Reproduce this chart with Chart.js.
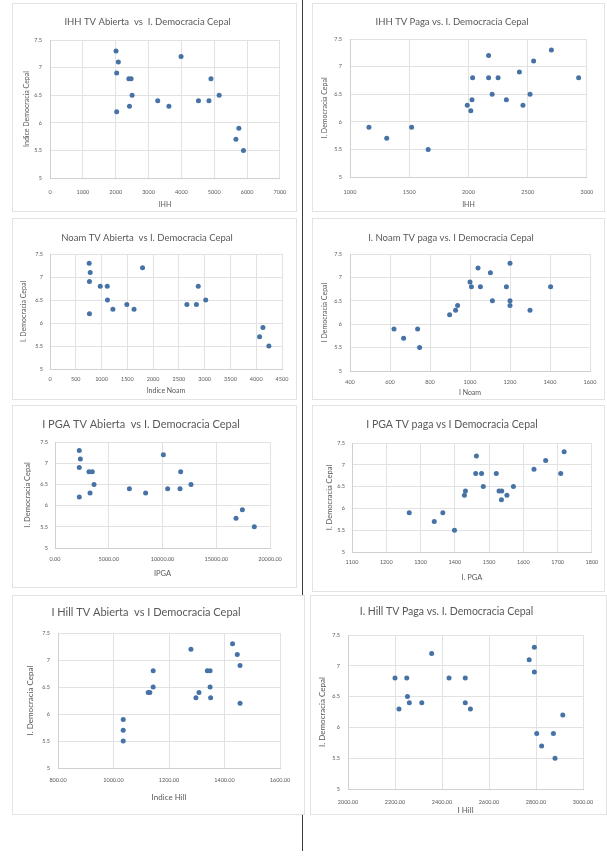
<!DOCTYPE html>
<html><head><meta charset="utf-8">
<script src="https://cdn.jsdelivr.net/npm/chart.js@4.4.0/dist/chart.umd.min.js"></script>
<style>
html,body{margin:0;padding:0;background:#fff;width:607px;height:856px;overflow:hidden;position:relative}
.panel{position:absolute;background:#fff;border:1px solid #e3e3e3;box-sizing:border-box}
canvas{position:absolute}
.vline{position:absolute;left:302px;width:1px;background:#3c3c3c}
</style></head><body>
<div class="vline" style="top:0;height:596px"></div>
<div class="vline" style="top:815px;height:36px"></div>
<script>
// ---- shared data ----
const yTicks = [5, 5.5, 6, 6.5, 7, 7.5];

// Panel 1: IHH TV Abierta
const ihhAbiertaX = [2010, 2080, 2030, 2400, 2470, 2500, 2420, 2030, 3280, 3620, 3990, 4520, 4840, 4900, 5150, 5660, 5750, 5890];
const ihhAbiertaY = [7.3, 7.1, 6.9, 6.8, 6.8, 6.5, 6.3, 6.2, 6.4, 6.3, 7.2, 6.4, 6.4, 6.8, 6.5, 5.7, 5.9, 5.5];
const ihhAbiertaTicks = [0, 1000, 2000, 3000, 4000, 5000, 6000, 7000];

// Panel 2: IHH TV Paga
const ihhPagaX = [1160, 1310, 1520, 1660, 1990, 2030, 2020, 2035, 2170, 2170, 2200, 2250, 2320, 2430, 2460, 2520, 2550, 2700, 2930];
const ihhPagaY = [5.9, 5.7, 5.9, 5.5, 6.3, 6.4, 6.2, 6.8, 7.2, 6.8, 6.5, 6.8, 6.4, 6.9, 6.3, 6.5, 7.1, 7.3, 6.8];
const ihhPagaTicks = [1000, 1500, 2000, 2500, 3000];

// Panel 3: Noam TV Abierta
const noamAbiertaX = [760, 780, 765, 975, 1110, 1115, 1220, 765, 1490, 1630, 1795, 2655, 2840, 2875, 3020, 4065, 4130, 4245];
const noamAbiertaY = [7.3, 7.1, 6.9, 6.8, 6.8, 6.5, 6.3, 6.2, 6.4, 6.3, 7.2, 6.4, 6.4, 6.8, 6.5, 5.7, 5.9, 5.5];
const noamAbiertaTicks = [0, 500, 1000, 1500, 2000, 2500, 3000, 3500, 4000, 4500];

// Panel 4: Noam TV Paga
const noamPagaX = [620, 668, 738, 748, 898, 928, 938, 1000, 1007, 1040, 1052, 1102, 1112, 1182, 1200, 1200, 1200, 1300, 1403];
const noamPagaY = [5.9, 5.7, 5.9, 5.5, 6.2, 6.3, 6.4, 6.9, 6.8, 7.2, 6.8, 7.1, 6.5, 6.8, 7.3, 6.5, 6.4, 6.3, 6.8];
const noamPagaTicks = [400, 600, 800, 1000, 1200, 1400, 1600];

// Panel 5: PGA TV Abierta
const pgaAbiertaX = [2260, 2360, 2260, 3160, 3470, 3630, 3260, 2260, 6920, 8430, 10080, 10480, 11630, 11690, 12650, 16840, 17430, 18540];
const pgaAbiertaY = [7.3, 7.1, 6.9, 6.8, 6.8, 6.5, 6.3, 6.2, 6.4, 6.3, 7.2, 6.4, 6.4, 6.8, 6.5, 5.7, 5.9, 5.5];
const pgaAbiertaTicks = [0, 5000, 10000, 15000, 20000];

// Panel 6: PGA TV Paga
const pgaPagaX = [1267, 1340, 1365, 1399, 1428, 1431, 1463, 1461, 1478, 1483, 1521, 1529, 1537, 1536, 1552, 1571, 1631, 1665, 1709, 1719];
const pgaPagaY = [5.9, 5.7, 5.9, 5.5, 6.3, 6.4, 7.2, 6.8, 6.8, 6.5, 6.8, 6.4, 6.4, 6.2, 6.3, 6.5, 6.9, 7.1, 6.8, 7.3];
const pgaPagaTicks = [1100, 1200, 1300, 1400, 1500, 1600, 1700, 1800];

// Panel 7: Hill TV Abierta
const hillAbiertaX = [1035, 1035, 1035, 1125, 1131, 1143, 1143, 1279, 1297, 1308, 1338, 1348, 1348, 1350, 1429, 1446, 1456, 1456];
const hillAbiertaY = [5.9, 5.7, 5.5, 6.4, 6.4, 6.8, 6.5, 7.2, 6.3, 6.4, 6.8, 6.8, 6.5, 6.3, 7.3, 7.1, 6.9, 6.2];
const hillAbiertaTicks = [800, 1000, 1200, 1400, 1600];

// Panel 8: Hill TV Paga
const hillPagaX = [2200, 2217, 2250, 2253, 2261, 2314, 2356, 2430, 2499, 2499, 2521, 2771, 2793, 2793, 2803, 2824, 2874, 2881, 2914];
const hillPagaY = [6.8, 6.3, 6.8, 6.5, 6.4, 6.4, 7.2, 6.8, 6.8, 6.4, 6.3, 7.1, 7.3, 6.9, 5.9, 5.7, 5.9, 5.5, 6.2];
const hillPagaTicks = [2000, 2200, 2400, 2600, 2800, 3000];

// ---- styles ----
const FF = 'Lato, "Liberation Sans", sans-serif';
const TXT = '#595959';
const GRID = '#e2e2e2';
const AXIS = '#d0d0d0';
const PT = '#4672a6';

function makePanel(L, T, xs, ys, xTicks) {
  const box = L.box, plot = L.plot;
  const W = box.r - box.l, H = box.b - box.t;
  const div = document.createElement('div');
  div.className = 'panel';
  Object.assign(div.style, {left: box.l + 'px', top: box.t + 'px', width: W + 'px', height: H + 'px'});
  document.body.appendChild(div);
  const cv = document.createElement('canvas');
  cv.width = W; cv.height = H;
  Object.assign(cv.style, {left: box.l + 'px', top: box.t + 'px', width: W + 'px', height: H + 'px'});
  document.body.appendChild(cv);

  const tLH = L.titleFs * 1.2;
  const tTop = Math.max(0, L.titleY - box.t - tLH / 2);
  const tBot = Math.max(0, plot.t - box.t - tTop - tLH);
  const yW = plot.l - box.l;
  const yTitlePad = Math.max(0, L.yTitleX - box.l - L.axisFs * 0.6);
  const yTickPad = plot.l - L.yTickRight;
  const pr = box.r - plot.r;
  const xH = box.b - plot.b;
  const xTickPad = Math.max(0, L.xTickY - L.tickFs * 0.6 - plot.b);
  const xTitlePadB = Math.max(0, box.b - L.xTitleY - L.axisFs * 0.6);
  const fmt = v => L.xDec ? Number(v).toFixed(L.xDec) : String(v);

  new Chart(cv.getContext('2d'), {
    type: 'scatter',
    data: {datasets: [{
      data: xs.map((x, i) => ({x: x, y: ys[i]})),
      backgroundColor: PT, borderColor: PT, borderWidth: 0,
      pointRadius: 2.5, pointHoverRadius: 2.5
    }]},
    options: {
      responsive: false, animation: false, events: [],
      layout: {padding: {left: 0, right: pr, top: 0, bottom: 0}},
      plugins: {
        legend: {display: false}, tooltip: {enabled: false},
        title: {display: true, text: T.title, color: TXT,
          font: {family: FF, size: L.titleFs, weight: 'normal', lineHeight: 1.2},
          padding: {top: tTop, bottom: tBot}}
      },
      scales: {
        x: {
          type: 'linear', position: 'bottom',
          min: xTicks[0], max: xTicks[xTicks.length - 1],
          afterBuildTicks: s => { s.ticks = xTicks.map(v => ({value: v})); },
          afterFit: s => { s.height = xH; },
          grid: {color: GRID, drawTicks: false},
          border: {color: AXIS},
          ticks: {padding: xTickPad, color: TXT, font: {family: FF, size: L.tickFs},
            maxRotation: 0, autoSkip: false, callback: v => fmt(v)},
          title: {display: true, text: T.xTitle, color: TXT,
            font: {family: FF, size: L.axisFs, lineHeight: 1.2},
            padding: {top: 0, bottom: xTitlePadB}}
        },
        y: {
          type: 'linear', position: 'left',
          min: yTicks[0], max: yTicks[yTicks.length - 1],
          afterBuildTicks: s => { s.ticks = yTicks.map(v => ({value: v})); },
          afterFit: s => { s.width = yW; },
          grid: {color: GRID, drawTicks: false},
          border: {color: AXIS},
          ticks: {padding: yTickPad, color: TXT, font: {family: FF, size: L.tickFs},
            autoSkip: false, callback: v => String(v)},
          title: {display: true, text: T.yTitle, color: TXT,
            font: {family: FF, size: L.axisFs, lineHeight: 1.2},
            padding: {top: yTitlePad, bottom: 0}}
        }
      }
    }
  });
}

makePanel(
  {box: {l: 12, t: 3, r: 297, b: 212}, plot: {l: 50, r: 283, t: 40, b: 178}, titleY: 22, titleFs: 9.5,
   xTickY: 192, xTitleY: 205, yTitleX: 27, yTickRight: 42, axisFs: 7, tickFs: 5.5},
  {title: 'IHH TV Abierta  vs  I. Democracia Cepal', xTitle: 'IHH', yTitle: 'Indice Democracia Cepal'},
  ihhAbiertaX, ihhAbiertaY, ihhAbiertaTicks);

makePanel(
  {box: {l: 312, t: 3, r: 605, b: 212}, plot: {l: 350, r: 592, t: 39, b: 177}, titleY: 22, titleFs: 9.5,
   xTickY: 192, xTitleY: 205, yTitleX: 325, yTickRight: 342, axisFs: 7, tickFs: 5.5},
  {title: 'IHH TV Paga vs. I. Democracia Cepal', xTitle: 'IHH', yTitle: 'I. Democracia Cepal'},
  ihhPagaX, ihhPagaY, ihhPagaTicks);

makePanel(
  {box: {l: 12, t: 218, r: 297, b: 400}, plot: {l: 50, r: 282, t: 254, b: 369}, titleY: 238, titleFs: 9.5,
   xTickY: 379, xTitleY: 391, yTitleX: 24, yTickRight: 43, axisFs: 7, tickFs: 5.5},
  {title: 'Noam TV Abierta  vs I. Democracia Cepal', xTitle: 'Indice Noam', yTitle: 'I. Democracia Cepal'},
  noamAbiertaX, noamAbiertaY, noamAbiertaTicks);

makePanel(
  {box: {l: 312, t: 218, r: 605, b: 400}, plot: {l: 350, r: 590, t: 254, b: 371}, titleY: 238, titleFs: 9.5,
   xTickY: 382, xTitleY: 393, yTitleX: 325, yTickRight: 342, axisFs: 7, tickFs: 5.5},
  {title: 'I. Noam TV paga vs. I Democracia Cepal', xTitle: 'I Noam', yTitle: 'I Democracia Cepal'},
  noamPagaX, noamPagaY, noamPagaTicks);

makePanel(
  {box: {l: 12, t: 405, r: 297, b: 588}, plot: {l: 55, r: 270, t: 442, b: 548}, titleY: 424, titleFs: 11,
   xTickY: 559, xTitleY: 574, yTitleX: 28, yTickRight: 48, axisFs: 7.5, tickFs: 5.5, xDec: 2},
  {title: 'I PGA TV Abierta  vs I. Democracia Cepal', xTitle: 'IPGA', yTitle: 'I. Democracia Cepal'},
  pgaAbiertaX, pgaAbiertaY, pgaAbiertaTicks);

makePanel(
  {box: {l: 312, t: 405, r: 605, b: 592}, plot: {l: 352, r: 592, t: 443, b: 552}, titleY: 425, titleFs: 10.5,
   xTickY: 562, xTitleY: 578, yTitleX: 330, yTickRight: 345, axisFs: 7.5, tickFs: 5.5},
  {title: 'I PGA TV paga vs I Democracia Cepal', xTitle: 'I. PGA', yTitle: 'I. Democracia Cepal'},
  pgaPagaX, pgaPagaY, pgaPagaTicks);

makePanel(
  {box: {l: 12, t: 595, r: 305, b: 815}, plot: {l: 58, r: 280, t: 633, b: 768}, titleY: 612, titleFs: 11,
   xTickY: 780, xTitleY: 797, yTitleX: 30, yTickRight: 50, axisFs: 8, tickFs: 5.5, xDec: 2},
  {title: 'I Hill TV Abierta  vs I Democracia Cepal', xTitle: 'Indice Hill', yTitle: 'I. Democracia Cepal'},
  hillAbiertaX, hillAbiertaY, hillAbiertaTicks);

makePanel(
  {box: {l: 310, t: 595, r: 607, b: 815}, plot: {l: 348, r: 583, t: 635, b: 789}, titleY: 612, titleFs: 10.5,
   xTickY: 802, xTitleY: 810, yTitleX: 322, yTickRight: 340, axisFs: 8, tickFs: 5.5, xDec: 2},
  {title: 'I. Hill TV Paga vs. I. Democracia Cepal', xTitle: 'I Hill', yTitle: 'I. Democracia Cepal'},
  hillPagaX, hillPagaY, hillPagaTicks);
</script>
</body></html>
